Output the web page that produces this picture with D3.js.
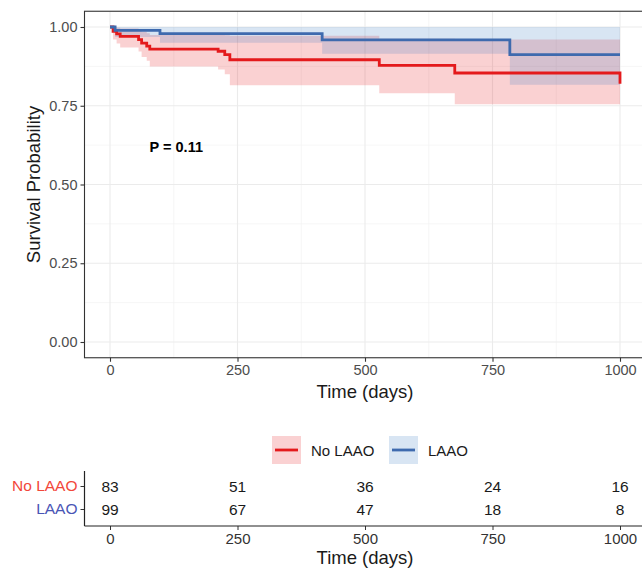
<!DOCTYPE html>
<html>
<head>
<meta charset="utf-8">
<script src="https://cdn.jsdelivr.net/npm/d3@7"></script>
<style>
  body { margin: 0; background: #fff; }
  svg { font-family: "Liberation Sans", Arial, sans-serif; }
</style>
</head>
<body>
<div id="chart"></div>
<script>
const w = 642;
const h = 568;

// KM estimates
const laaoTime  = [0, 10, 98, 416, 784, 1000];
const laaoSurv  = [1, 0.989, 0.979, 0.959, 0.912, 0.912];
const laaoLower = [1, 0.968, 0.950, 0.915, 0.817, 0.817];
const laaoUpper = [1, 1, 1, 1, 1, 1];

const noTime  = [0, 6, 13, 20, 56, 62, 72, 78, 212, 225, 235, 528, 676, 1000];
const noSurv  = [1, 0.986, 0.978, 0.970, 0.960, 0.949, 0.939, 0.930, 0.923, 0.912, 0.896, 0.878, 0.854, 0.820];
const noLower = [1, 0.960, 0.948, 0.935, 0.922, 0.905, 0.893, 0.875, 0.865, 0.850, 0.815, 0.790, 0.755, 0.755];
const noUpper = [1, 1, 0.998, 0.995, 0.990, 0.985, 0.980, 0.975, 0.975, 0.974, 0.972, 0.963, 0.960, 0.960];

const groups = ['No LAAO', 'LAAO'];
const riskTimes = [0, 250, 500, 750, 1000];
const riskNo = [83, 51, 36, 24, 16];
const riskLaao = [99, 67, 47, 18, 8];
const xTicks = [0, 250, 500, 750, 1000];
const yTicks = [0, 0.25, 0.5, 0.75, 1];
const pLabel = 'P = 0.11';

const red = '#E41A1C';
const blue = '#3E6AAE';
const redFill = '#E41A1C';
const blueFill = '#3A7DC4';

const svg = d3.select('#chart').append('svg')
  .attr('width', w)
  .attr('height', h);

const x = d3.scaleLinear().domain([-50, 1050]).range([84.5, 645.5]);
const y = d3.scaleLinear().domain([-0.05, 1.05]).range([357.75, 11.25]);

// grid
const grid = svg.append('g');
const minorX = [125, 375, 625, 875];
const minorY = [0.125, 0.375, 0.625, 0.875];
grid.selectAll('.mx').data(minorX).enter().append('line')
  .attr('x1', d => x(d)).attr('x2', d => x(d))
  .attr('y1', y.range()[0]).attr('y2', y.range()[1])
  .attr('stroke', '#F2F2F2').attr('stroke-width', 0.7);
grid.selectAll('.my').data(minorY).enter().append('line')
  .attr('y1', d => y(d)).attr('y2', d => y(d))
  .attr('x1', x.range()[0]).attr('x2', x.range()[1])
  .attr('stroke', '#F2F2F2').attr('stroke-width', 0.7);
grid.selectAll('.gx').data(xTicks).enter().append('line')
  .attr('x1', d => x(d)).attr('x2', d => x(d))
  .attr('y1', y.range()[0]).attr('y2', y.range()[1])
  .attr('stroke', '#EBEBEB').attr('stroke-width', 1.1);
grid.selectAll('.gy').data(yTicks).enter().append('line')
  .attr('y1', d => y(d)).attr('y2', d => y(d))
  .attr('x1', x.range()[0]).attr('x2', x.range()[1])
  .attr('stroke', '#EBEBEB').attr('stroke-width', 1.1);

function rows(t, s, lo, hi) {
  return t.map((d, i) => ({ t: d, s: s[i], lo: lo[i], hi: hi[i] }));
}
const series = [
  { name: 'No LAAO', color: red, fill: redFill, data: rows(noTime, noSurv, noLower, noUpper) },
  { name: 'LAAO', color: blue, fill: blueFill, data: rows(laaoTime, laaoSurv, laaoLower, laaoUpper) }
];

const area = d3.area().curve(d3.curveStepAfter)
  .x(d => x(d.t)).y0(d => y(d.lo)).y1(d => y(d.hi));
const line = d3.line().curve(d3.curveStepAfter)
  .x(d => x(d.t)).y(d => y(d.s));

series.forEach(s => {
  svg.append('path').datum(s.data)
    .attr('d', area)
    .attr('fill', s.fill)
    .attr('fill-opacity', 0.2);
});
series.forEach(s => {
  svg.append('path').datum(s.data)
    .attr('d', line)
    .attr('fill', 'none')
    .attr('stroke', s.color)
    .attr('stroke-width', 2.8);
});

// panel border
svg.append('rect')
  .attr('x', x.range()[0]).attr('y', y.range()[1])
  .attr('width', x.range()[1] - x.range()[0])
  .attr('height', y.range()[0] - y.range()[1])
  .attr('fill', 'none').attr('stroke', '#333').attr('stroke-width', 1.1);

// axes
const xAxis = svg.append('g')
  .attr('transform', 'translate(0,' + y.range()[0] + ')')
  .call(d3.axisBottom(x).tickValues(xTicks).tickSize(4).tickPadding(3).tickFormat(d3.format('d')));
const yAxis = svg.append('g')
  .attr('transform', 'translate(' + x.range()[0] + ',0)')
  .call(d3.axisLeft(y).tickValues(yTicks).tickSize(4).tickPadding(3).tickFormat(d3.format('.2f')));
[xAxis, yAxis].forEach(a => {
  a.select('.domain').remove();
  a.selectAll('.tick line').attr('stroke', '#333').attr('stroke-width', 1.1);
  a.selectAll('.tick text').attr('fill', '#4D4D4D').style('font-size', '14.5px')
    .style('font-family', '"Liberation Sans", Arial, sans-serif');
});

svg.append('text')
  .attr('x', x(500)).attr('y', 398)
  .attr('text-anchor', 'middle')
  .style('font-size', '18.5px')
  .attr('fill', '#1A1A1A')
  .text('Time (days)');

svg.append('text')
  .attr('transform', 'rotate(-90)')
  .attr('x', -y(0.5)).attr('y', 40)
  .attr('text-anchor', 'middle')
  .style('font-size', '18.5px')
  .attr('fill', '#1A1A1A')
  .text('Survival Probability');

svg.append('text')
  .attr('x', x(130)).attr('y', y(0.62) + 5)
  .attr('text-anchor', 'middle')
  .style('font-size', '14.5px')
  .style('font-weight', 'bold')
  .text(pLabel);

// legend
const legend = svg.append('g').attr('transform', 'translate(272,436)');
const legendX = [0, 117];
series.forEach((s, i) => {
  const g = legend.append('g').attr('transform', 'translate(' + legendX[i] + ',0)');
  g.append('rect').attr('width', 29).attr('height', 28)
    .attr('fill', s.fill).attr('fill-opacity', 0.2);
  g.append('line').attr('x1', 3).attr('x2', 26).attr('y1', 14).attr('y2', 14)
    .attr('stroke', s.color).attr('stroke-width', 2.8);
  g.append('text').attr('x', 39).attr('y', 19.5)
    .style('font-size', '15px').attr('fill', '#1A1A1A')
    .text(s.name);
});

// risk table
const ry = d3.scalePoint().domain(groups).range([486, 509]);
const riskColors = ['#F2473A', '#4A55B5'];
const riskData = [riskNo, riskLaao];
const table = svg.append('g');
groups.forEach((gname, gi) => {
  table.selectAll('.r' + gi).data(riskTimes).enter().append('text')
    .attr('x', d => x(d)).attr('y', ry(gname) + 5.5)
    .attr('text-anchor', 'middle')
    .style('font-size', '15.5px')
    .attr('fill', '#1A1A1A')
    .text((d, i) => riskData[gi][i]);
});
const tableBottom = 526;
const ryAxis = svg.append('g')
  .attr('transform', 'translate(' + x.range()[0] + ',0)')
  .call(d3.axisLeft(ry).tickSize(4).tickPadding(3));
ryAxis.select('.domain').remove();
ryAxis.selectAll('.tick line').attr('stroke', '#333');
ryAxis.selectAll('.tick text')
  .style('font-size', '15.5px')
  .style('font-family', '"Liberation Sans", Arial, sans-serif')
  .attr('fill', (d, i) => riskColors[i]);
svg.append('line')
  .attr('x1', x.range()[0]).attr('x2', x.range()[0])
  .attr('y1', 471).attr('y2', tableBottom)
  .attr('stroke', '#222').attr('stroke-width', 1.2);
const rxAxis = svg.append('g')
  .attr('transform', 'translate(0,' + tableBottom + ')')
  .call(d3.axisBottom(x).tickValues(xTicks).tickSize(4).tickPadding(3).tickFormat(d3.format('d')));
rxAxis.select('.domain').remove();
rxAxis.selectAll('.tick line').attr('stroke', '#333');
rxAxis.selectAll('.tick text').attr('fill', '#333').style('font-size', '15px')
  .style('font-family', '"Liberation Sans", Arial, sans-serif');
svg.append('line')
  .attr('x1', x.range()[0]).attr('x2', w)
  .attr('y1', tableBottom).attr('y2', tableBottom)
  .attr('stroke', '#222').attr('stroke-width', 1.2);
svg.append('text')
  .attr('x', x(500)).attr('y', 564)
  .attr('text-anchor', 'middle')
  .style('font-size', '18.5px')
  .attr('fill', '#1A1A1A')
  .text('Time (days)');
</script>
</body>
</html>
